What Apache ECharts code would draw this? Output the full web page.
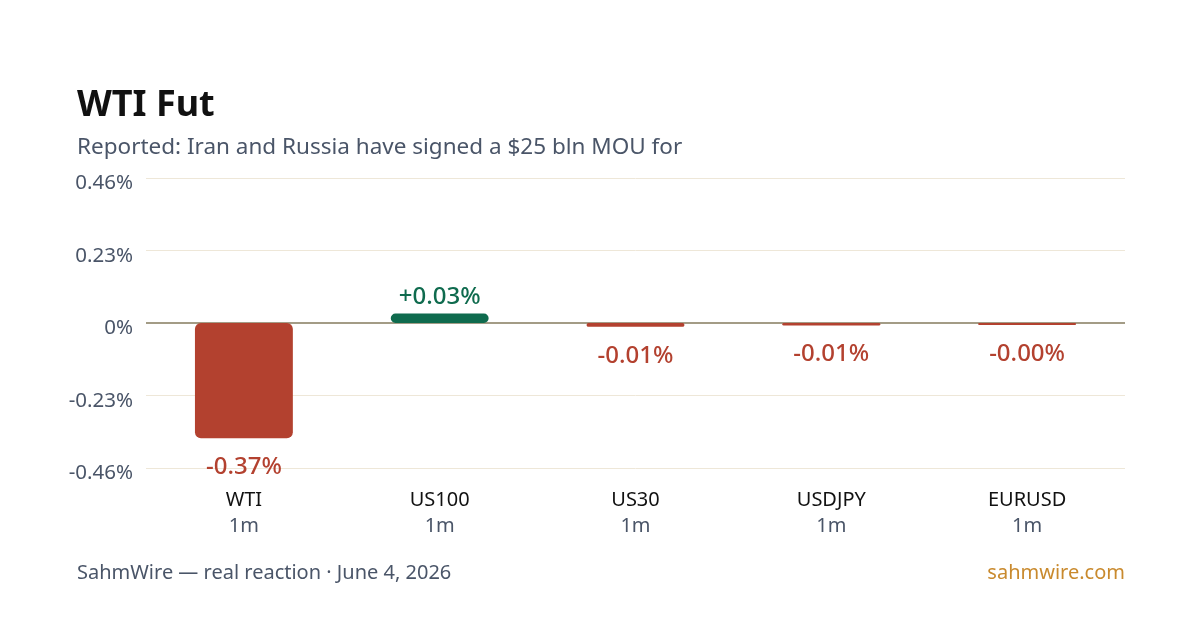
<!DOCTYPE html>
<html>
<head>
<meta charset="utf-8">
<script src="https://cdn.jsdelivr.net/npm/echarts@6/dist/echarts.min.js"></script>
<style>
  html, body { margin: 0; padding: 0; background: #fff; }
  #chart { width: 1200px; height: 630px; }
</style>
</head>
<body>
<div id="chart"></div>
<script>
const symbols = ['WTI', 'US100', 'US30', 'USDJPY', 'EURUSD']
const windows = ['1m', '1m', '1m', '1m', '1m']
const moves = [-0.366, 0.03, -0.012, -0.008, -0.004]
const axisTicks = [-0.46, -0.23, 0, 0.23, 0.46]

const RED = '#B3412F'
const GREEN = '#0F6B4E'
const FONT = '"Noto Sans", "Open Sans", sans-serif'

const chart = echarts.init(document.getElementById('chart'), null, { renderer: 'canvas' })

const fmt = v => (v > 0 ? '+' : '') + v.toFixed(2) + '%'

const barData = moves.map(v => ({
    value: v,
    itemStyle: { color: v >= 0 ? GREEN : RED, borderRadius: 6 },
    label: {
        position: v >= 0 ? 'top' : 'bottom',
        distance: v >= 0 ? 4 : 17,
        color: v >= 0 ? GREEN : RED
    }
}))

const opt = {
    backgroundColor: '#fff',
    animation: false,
    title: {
        left: 72,
        top: 83,
        text: 'WTI Fut',
        subtext: 'Reported: Iran and Russia have signed a $25 bln MOU for',
        itemGap: 12,
        textStyle: { fontFamily: FONT, fontSize: 36, fontWeight: 'bold', color: '#111111' },
        subtextStyle: { fontFamily: FONT, fontSize: 22.5, color: '#4A5568' }
    },
    grid: { left: 146, right: 75, top: 178, bottom: 162 },
    xAxis: {
        type: 'category',
        data: symbols,
        axisLine: { show: false },
        axisTick: { show: false },
        axisLabel: {
            margin: 19,
            formatter: (val, i) => '{a|' + val + '}\n{b|' + windows[i] + '}',
            rich: {
                a: { fontFamily: FONT, fontSize: 20, color: '#111111', lineHeight: 26 },
                b: { fontFamily: FONT, fontSize: 20, color: '#4A5568', lineHeight: 26 }
            }
        }
    },
    yAxis: {
        type: 'value',
        min: axisTicks[0],
        max: axisTicks[axisTicks.length - 1],
        interval: 0.23,
        axisLine: { show: false },
        axisTick: { show: false },
        axisLabel: {
            margin: 13,
            verticalAlign: 'top',
            lineHeight: 11,
            fontFamily: FONT,
            fontSize: 20.5,
            color: '#4A5568',
            formatter: v => (Math.abs(v) < 1e-9 ? '0' : v.toFixed(2)) + '%'
        },
        splitLine: { lineStyle: { color: '#EEE7D8', width: 1 } }
    },
    series: [
        {
            type: 'bar',
            data: barData,
            barWidth: '50%',
            barMinHeight: 2,
            label: {
                show: true,
                fontFamily: FONT,
                fontSize: 24,
                fontWeight: 500,
                formatter: p => fmt(p.value)
            },
            markLine: {
                silent: true,
                symbol: 'none',
                label: { show: false },
                lineStyle: { color: '#A39C86', width: 2, type: 'solid' },
                data: [{ yAxis: 0 }],
                z: 1
            },
            z: 3
        }
    ],
    graphic: [
        {
            type: 'text',
            left: 77,
            top: 563,
            style: { text: 'SahmWire — real reaction · June 4, 2026', font: '20px ' + FONT, fill: '#4A5568' }
        },
        {
            type: 'text',
            right: 75,
            top: 563,
            style: { text: 'sahmwire.com', font: '20px ' + FONT, fill: '#C98A2E' }
        }
    ]
}

chart.setOption(opt)
</script>
</body>
</html>
